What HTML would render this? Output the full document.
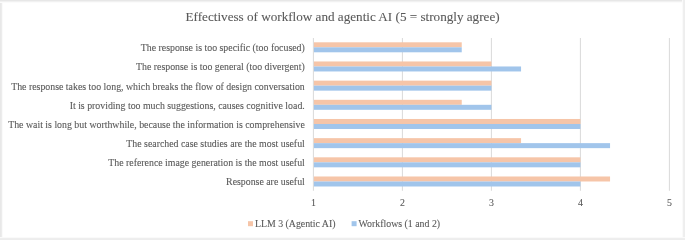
<!DOCTYPE html>
<html><head><meta charset="utf-8"><style>
html,body{margin:0;padding:0;background:#fff;}
body{width:685px;height:240px;overflow:hidden;position:relative;}
svg{position:absolute;left:0;top:0;will-change:transform;}
text{font-family:"Liberation Serif",serif;font-size:9.85px;fill:#595959;stroke:#595959;stroke-width:0.1px;}
</style></head><body>
<svg width="685" height="240" viewBox="0 0 685 240">
<rect x="0" y="0" width="1" height="240" fill="#E8E8E8" shape-rendering="crispEdges"/>
<rect x="1" y="0" width="1" height="240" fill="#ECECEC" shape-rendering="crispEdges"/>
<rect x="2" y="0" width="1" height="240" fill="#FAFAFA" shape-rendering="crispEdges"/>
<rect x="0" y="0" width="685" height="1" fill="#E7E7E7" shape-rendering="crispEdges"/>
<rect x="0" y="1" width="685" height="1" fill="#F1F1F1" shape-rendering="crispEdges"/>
<rect x="0" y="2" width="685" height="1" fill="#FBFBFB" shape-rendering="crispEdges"/>
<rect x="682" y="0" width="1" height="240" fill="#FAFAFA" shape-rendering="crispEdges"/>
<rect x="683" y="0" width="1" height="240" fill="#EFEFEF" shape-rendering="crispEdges"/>
<rect x="684" y="0" width="1" height="240" fill="#EEEEEE" shape-rendering="crispEdges"/>
<rect x="0" y="237" width="685" height="1" fill="#FAFAFA" shape-rendering="crispEdges"/>
<rect x="0" y="238" width="685" height="1" fill="#EEEEEE" shape-rendering="crispEdges"/>
<rect x="0" y="239" width="685" height="1" fill="#EDEDED" shape-rendering="crispEdges"/>
<line x1="313.40" y1="38.0" x2="313.40" y2="190.8" stroke="#D9D9D9" stroke-width="1"/>
<line x1="402.40" y1="38.0" x2="402.40" y2="190.8" stroke="#D9D9D9" stroke-width="1"/>
<line x1="491.40" y1="38.0" x2="491.40" y2="190.8" stroke="#D9D9D9" stroke-width="1"/>
<line x1="580.40" y1="38.0" x2="580.40" y2="190.8" stroke="#D9D9D9" stroke-width="1"/>
<line x1="669.40" y1="38.0" x2="669.40" y2="190.8" stroke="#D9D9D9" stroke-width="1"/>
<rect x="313.90" y="42.30" width="147.84" height="5.0" fill="#F6C5A8"/>
<rect x="313.90" y="47.30" width="147.84" height="5.0" fill="#A1C5EB"/>
<text x="304.8" y="51.30" text-anchor="end">The response is too specific (too focused)</text>
<rect x="313.90" y="61.47" width="177.50" height="5.0" fill="#F6C5A8"/>
<rect x="313.90" y="66.47" width="207.16" height="5.0" fill="#A1C5EB"/>
<text x="304.8" y="70.47" text-anchor="end">The response is too general (too divergent)</text>
<rect x="313.90" y="80.64" width="177.50" height="5.0" fill="#F6C5A8"/>
<rect x="313.90" y="85.64" width="177.50" height="5.0" fill="#A1C5EB"/>
<text x="304.8" y="89.64" text-anchor="end">The response takes too long, which breaks the flow of design conversation</text>
<rect x="313.90" y="99.81" width="147.84" height="5.0" fill="#F6C5A8"/>
<rect x="313.90" y="104.81" width="177.50" height="5.0" fill="#A1C5EB"/>
<text x="304.8" y="108.81" text-anchor="end">It is providing too much suggestions, causes cognitive load.</text>
<rect x="313.90" y="118.98" width="266.50" height="5.0" fill="#F6C5A8"/>
<rect x="313.90" y="123.98" width="266.50" height="5.0" fill="#A1C5EB"/>
<text x="304.8" y="127.98" text-anchor="end">The wait is long but worthwhile, because the information is comprehensive</text>
<rect x="313.90" y="138.15" width="207.16" height="5.0" fill="#F6C5A8"/>
<rect x="313.90" y="143.15" width="296.16" height="5.0" fill="#A1C5EB"/>
<text x="304.8" y="147.15" text-anchor="end">The searched case studies are the most useful</text>
<rect x="313.90" y="157.32" width="266.50" height="5.0" fill="#F6C5A8"/>
<rect x="313.90" y="162.32" width="266.50" height="5.0" fill="#A1C5EB"/>
<text x="304.8" y="166.32" text-anchor="end">The reference image generation is the most useful</text>
<rect x="313.90" y="176.49" width="296.16" height="5.0" fill="#F6C5A8"/>
<rect x="313.90" y="181.49" width="266.50" height="5.0" fill="#A1C5EB"/>
<text x="304.8" y="185.49" text-anchor="end">Response are useful</text>
<text x="313.40" y="206" text-anchor="middle">1</text>
<text x="402.40" y="206" text-anchor="middle">2</text>
<text x="491.40" y="206" text-anchor="middle">3</text>
<text x="580.40" y="206" text-anchor="middle">4</text>
<text x="669.40" y="206" text-anchor="middle">5</text>
<text x="342.6" y="21.1" text-anchor="middle" style="font-size:13.15px">Effectivess of workflow and agentic AI (5 = strongly agree)</text>
<rect x="248" y="221.2" width="5" height="5" fill="#F6C5A8"/>
<text x="254.9" y="227.3">LLM 3 (Agentic AI)</text>
<rect x="351.6" y="221.2" width="5" height="5" fill="#A1C5EB"/>
<text x="358.6" y="227.3">Workflows (1 and 2)</text>
</svg>
</body></html>
